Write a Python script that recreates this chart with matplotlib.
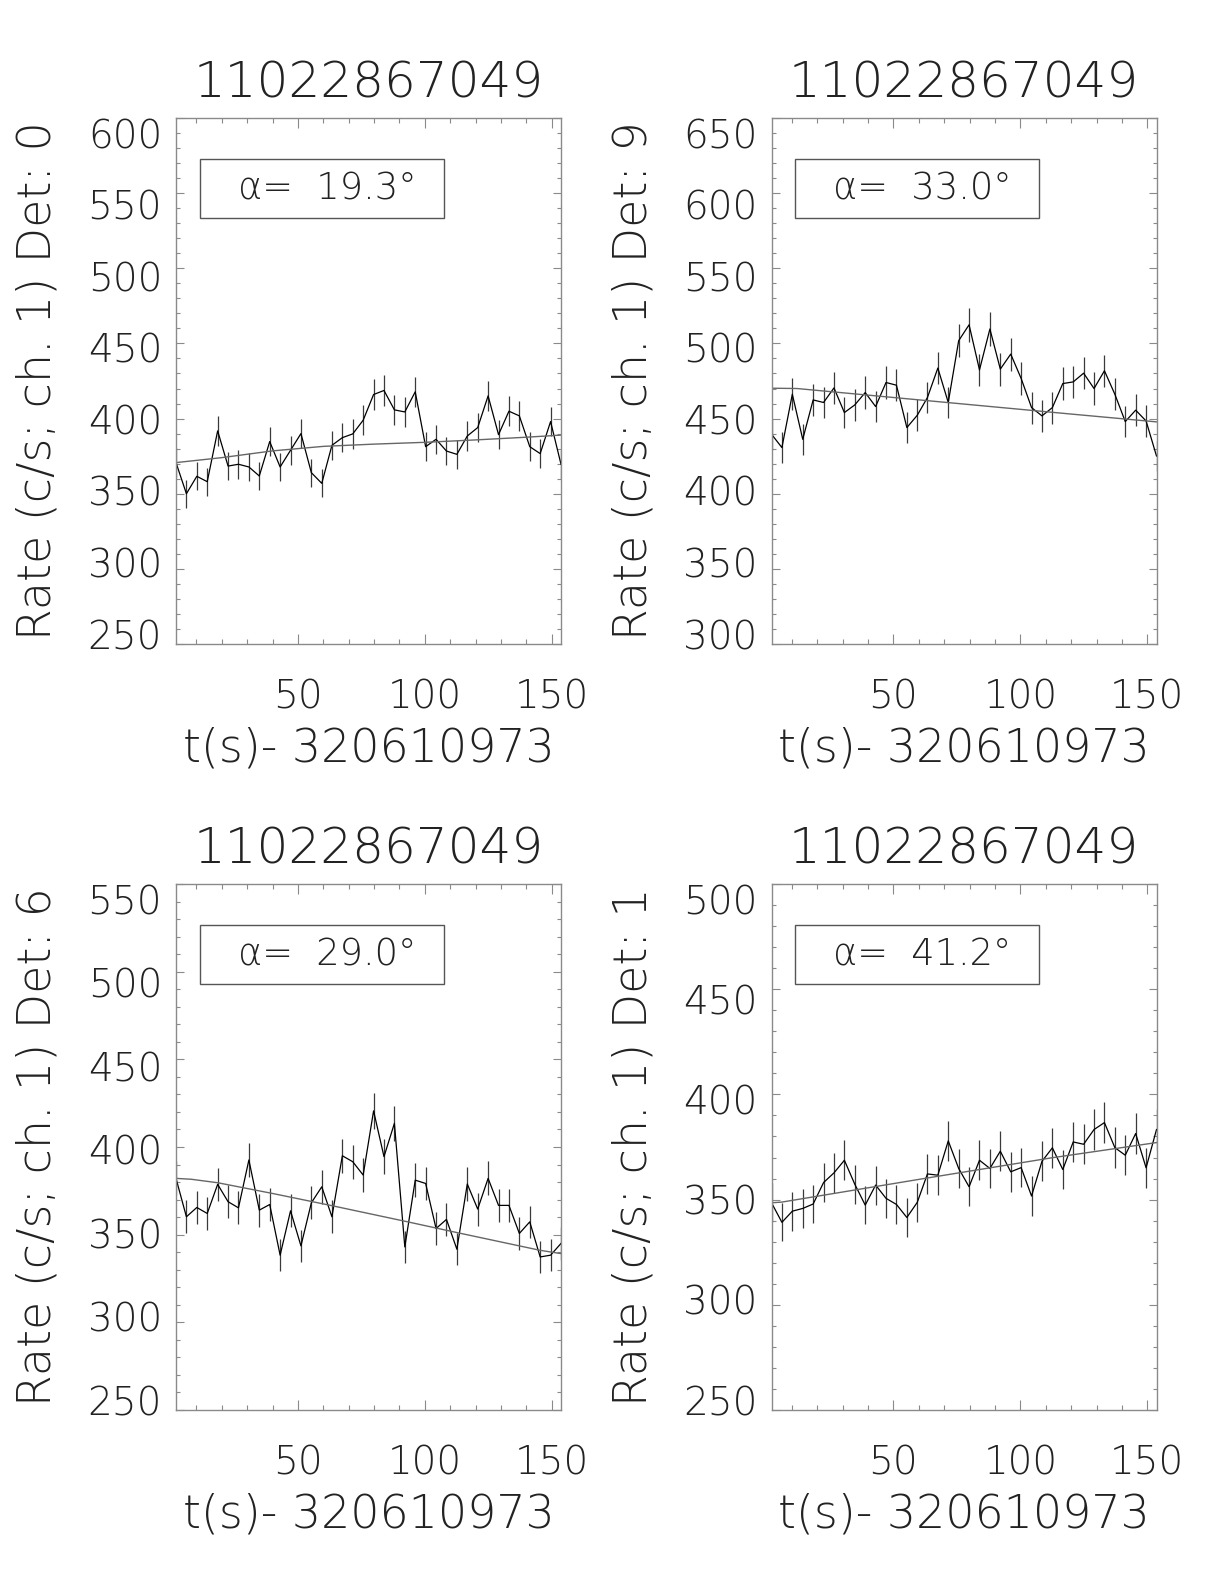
import numpy as np
import matplotlib
matplotlib.use('Agg')
import matplotlib.pyplot as plt
from matplotlib.ticker import MultipleLocator
from matplotlib.patches import Rectangle
import matplotlib.transforms as mtransforms

plt.rcParams['font.family'] = ['DejaVu Sans']
plt.rcParams['font.weight'] = 'ultralight'
plt.rcParams['axes.labelweight'] = 'ultralight'
plt.rcParams['axes.titleweight'] = 'ultralight'

title = '11022867049'
xlabel = 't(s)- 320610973'

# bin times (s after 320610973)
t = [2.0, 6.1, 10.2, 14.3, 18.4, 22.5, 26.6, 30.7, 34.8, 38.9, 43.0, 47.1,
     51.2, 55.3, 59.4, 63.4, 67.5, 71.6, 75.7, 79.8, 83.9, 88.0, 92.1, 96.2,
     100.3, 104.4, 108.5, 112.6, 116.7, 120.8, 124.9, 129.0, 133.1, 137.2,
     141.3, 145.4, 149.5, 153.6]

# detector 0
rate0 = [370.7, 350.0, 361.6, 358.0, 391.8, 368.4, 369.6, 367.8, 361.8, 384.7,
         367.8, 378.9, 390.0, 364.0, 356.9, 382.2, 387.3, 389.8, 398.9, 416.0,
         418.7, 405.8, 404.4, 417.8, 381.3, 386.2, 378.4, 376.2, 388.4, 394.0,
         415.1, 389.3, 404.9, 401.8, 381.3, 376.7, 398.0, 369.6]
err0 = [9.5, 9.2, 9.4, 9.3, 9.8, 9.5, 9.5, 9.5, 9.4, 9.7, 9.5, 9.6, 9.8, 9.4,
        9.3, 9.7, 9.7, 9.8, 9.9, 10.1, 10.1, 9.9, 9.9, 10.1, 9.6, 9.7, 9.6,
        9.6, 9.7, 9.8, 10.1, 9.7, 9.9, 9.9, 9.6, 9.6, 9.9, 9.5]
fit0_t = [2.0, 20.0, 40.0, 60.0, 80.0, 100.0, 120.0, 140.0, 153.6]
fit0 = [370.7, 374.0, 378.5, 381.5, 383.0, 384.2, 385.8, 387.6, 389.0]

# detector 9
rate9 = [439.6, 430.7, 466.2, 436.2, 462.4, 460.7, 470.4, 454.0, 459.1, 467.3,
         458.0, 474.0, 472.2, 444.0, 452.2, 464.0, 483.6, 460.7, 501.8, 512.4,
         482.4, 509.6, 482.9, 492.9, 476.7, 457.3, 451.8, 457.3, 473.3, 474.4,
         480.2, 470.0, 481.8, 466.2, 448.0, 455.6, 448.4, 425.1]
err9 = [10.4, 10.2, 10.7, 10.3, 10.6, 10.6, 10.7, 10.5, 10.6, 10.7, 10.6, 10.8,
        10.7, 10.4, 10.5, 10.6, 10.9, 10.6, 11.1, 11.2, 10.8, 11.2, 10.9, 11.0,
        10.8, 10.6, 10.5, 10.6, 10.7, 10.8, 10.8, 10.7, 10.8, 10.7, 10.5, 10.5,
        10.5, 10.2]
fit9_t = [2.0, 12.0, 40.0, 80.0, 120.0, 153.6]
fit9 = [470.2, 470.0, 465.6, 459.3, 453.0, 447.8]

# detector 6
rate6 = [382.1, 360.2, 365.5, 362.1, 378.7, 368.8, 365.3, 392.6, 364.0, 367.2,
         338.3, 363.6, 343.6, 368.2, 377.3, 360.2, 395.0, 391.6, 384.0, 420.6,
         394.5, 413.5, 343.0, 381.1, 379.2, 353.5, 358.7, 341.7, 378.9, 364.6,
         382.1, 366.7, 366.7, 350.7, 357.3, 337.3, 338.3, 345.0]
err6 = [9.7, 9.4, 9.4, 9.4, 9.6, 9.5, 9.4, 9.8, 9.4, 9.5, 9.1, 9.4, 9.2, 9.5,
        9.6, 9.4, 9.8, 9.8, 9.7, 10.1, 9.8, 10.0, 9.2, 9.6, 9.6, 9.3, 9.4, 9.1,
        9.6, 9.4, 9.7, 9.5, 9.5, 9.3, 9.3, 9.1, 9.1, 9.2]
fit6_t = [2.0, 8.0, 18.5, 40.0, 63.5, 92.0, 112.6, 145.3, 153.6]
fit6 = [382.1, 381.6, 379.6, 373.5, 366.5, 357.7, 351.2, 341.1, 339.2]

# detector 1
rate1 = [348.5, 339.2, 344.5, 345.8, 347.9, 358.1, 362.7, 368.7, 357.3, 347.4,
         356.9, 350.6, 347.7, 341.5, 348.7, 362.2, 361.6, 377.9, 364.8, 356.1,
         368.7, 364.8, 373.0, 363.2, 365.2, 351.7, 368.2, 374.6, 364.3, 377.4,
         376.3, 383.3, 386.6, 374.7, 371.1, 381.4, 365.1, 383.3]
err1 = [9.2, 9.1, 9.2, 9.2, 9.2, 9.4, 9.4, 9.5, 9.3, 9.2, 9.3, 9.3, 9.2, 9.1,
        9.2, 9.4, 9.4, 9.6, 9.4, 9.3, 9.5, 9.4, 9.5, 9.4, 9.4, 9.3, 9.5, 9.6,
        9.4, 9.6, 9.6, 9.7, 9.7, 9.6, 9.5, 9.6, 9.4, 9.7]
fit1_t = [2.0, 6.0, 63.0, 112.0, 153.6]
fit1 = [348.5, 348.8, 360.2, 369.8, 377.1]

panels = [
    (rate0, err0, fit0_t, fit0, 'Rate (c/s; ch. 1) Det: 0', 19.3, (250, 600)),
    (rate9, err9, fit9_t, fit9, 'Rate (c/s; ch. 1) Det: 9', 33.0, (300, 650)),
    (rate6, err6, fit6_t, fit6, 'Rate (c/s; ch. 1) Det: 6', 29.0, (250, 550)),
    (rate1, err1, fit1_t, fit1, 'Rate (c/s; ch. 1) Det: 1', 41.2, (250, 500)),
]

W, H = 1224, 1584
boxes = [(176, 118), (771.5, 118), (176, 884), (771.5, 884)]
bw, bh = 385, 526

fig = plt.figure(figsize=(W / 100, H / 100), dpi=100)
txt = '#222222'
axc = '#8a8a8a'

for (rate, err, ft, fv, ylab, alpha, ylim), (x0, y0) in zip(panels, boxes):
    ax = fig.add_axes([x0 / W, 1 - (y0 + bh) / H, bw / W, bh / H])
    ax.vlines(t, np.array(rate) - np.array(err), np.array(rate) + np.array(err),
              color='#3a3a3a', lw=0.9)
    ax.plot(t, rate, color='black', lw=0.9)
    ax.plot(ft, fv, color='#666666', lw=1.0)

    ax.set_xlim(t[0], t[-1])
    ax.set_ylim(*ylim)
    ax.set_xticks([50, 100, 150])
    ax.xaxis.set_minor_locator(MultipleLocator(10))
    yt = np.arange(ylim[0], ylim[1] + 1, 50)
    ax.set_yticks(yt)
    ax.yaxis.set_minor_locator(MultipleLocator(10))

    for s in ax.spines.values():
        s.set_color(axc)
        s.set_linewidth(1.0)
    ax.tick_params(which='both', direction='in', top=True, right=True,
                   color=axc, width=0.8, labelcolor=txt, labelsize=28)
    ax.tick_params(axis='x', which='major', length=7.5, pad=25)
    ax.tick_params(axis='x', which='minor', length=3.7)
    ax.tick_params(axis='y', which='major', length=5.5, pad=10)
    ax.tick_params(axis='y', which='minor', length=2.8)
    # y labels sit squeezed inside the box height, like the original
    for v, lab in zip(yt, ax.get_yticklabels()):
        f = (v - ylim[0]) / (ylim[1] - ylim[0])
        dy = (0.019 - 0.048 * f) * bh / 100
        off = mtransforms.ScaledTranslation(0, dy, fig.dpi_scale_trans)
        lab.set_transform(lab.get_transform() + off)

    ax.set_title(title, fontsize=36, color=txt, pad=15)
    ax.set_xlabel(xlabel, fontsize=33, color=txt, labelpad=7)
    ax.set_ylabel(ylab, fontsize=33, color=txt, labelpad=20)

    ax.add_patch(Rectangle((0.062, 0.81), 0.634, 0.113, transform=ax.transAxes,
                           fill=False, edgecolor='#555555', lw=1.0))
    ax.text(0.16, 0.866, 'α=  %.1f°' % alpha, transform=ax.transAxes,
            fontsize=26.5, color=txt, va='center', ha='left')

fig.savefig('out.png', dpi=100)
